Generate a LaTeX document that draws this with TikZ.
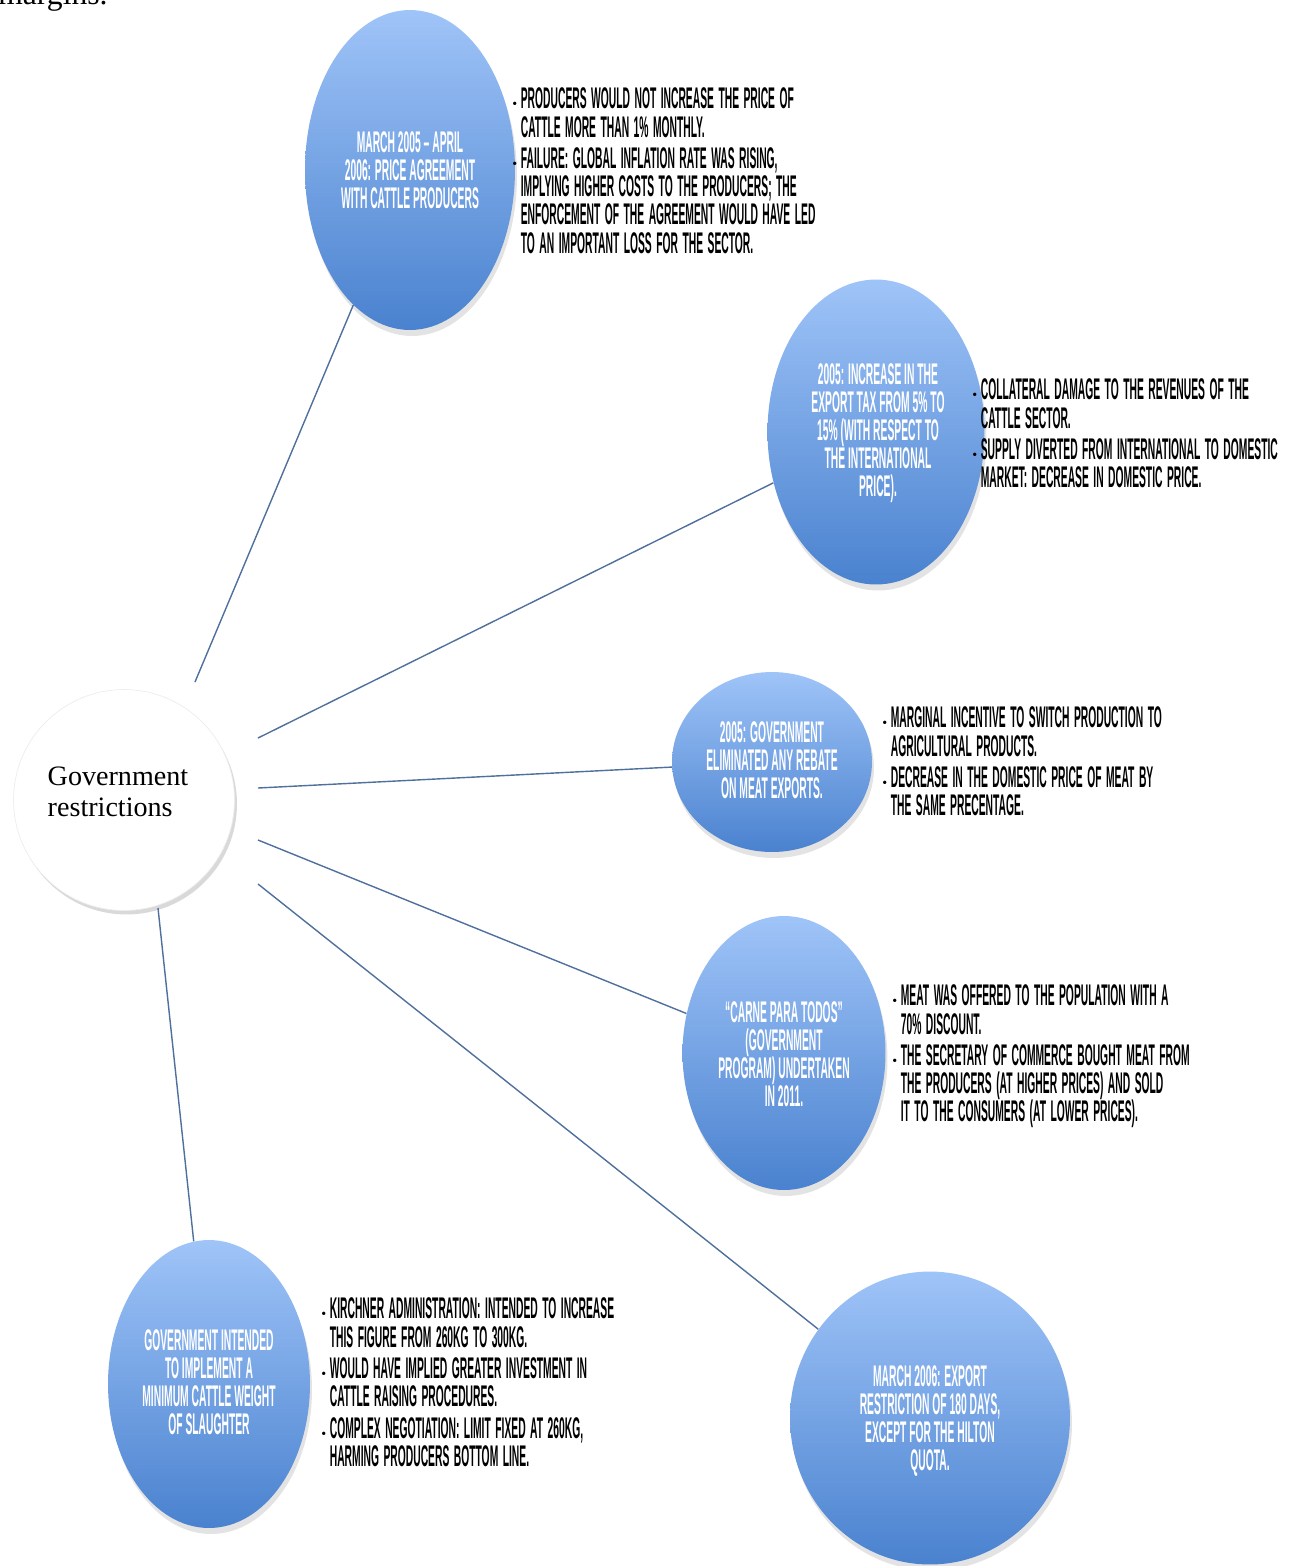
\documentclass[tikz,border=0pt]{standalone}
\usepackage{fontspec}
\setmainfont{Liberation Serif}
\newfontfamily\narrowfont[FakeStretch=0.345]{Liberation Sans Bold}
\usetikzlibrary{shapes.geometric,shadows}

\definecolor{balltop}{HTML}{9FC4F8}
\definecolor{ballbot}{HTML}{4A82CF}
\definecolor{linkblue}{HTML}{4F709C}

% one bullet point with hanging indent
\newcommand{\pnt}[1]{\par\spaceskip=0.15em plus 0.1em\relax
  \hangindent=0.17cm\hangafter=1\noindent
  \makebox[0.17cm][l]{\normalfont\footnotesize\textbullet}#1\par}

\tikzset{
  ball/.style={ellipse, draw=none, top color=balltop, bottom color=ballbot,
    drop shadow={opacity=0.22, shadow xshift=0.04cm, shadow yshift=-0.12cm}},
  balltext/.style={text=white, align=center, inner sep=0pt,
    font=\narrowfont\fontsize{17}{16}\selectfont},
  bullets/.style={anchor=north west, align=left, inner sep=0pt, text width=9cm,
    font=\narrowfont\fontsize{17}{16}\selectfont\setlength{\parskip}{2pt}},
  link/.style={draw=linkblue, line width=0.8pt}
}

\begin{document}
\begin{tikzpicture}[x=0.02cm,y=-0.02cm]
  \useasboundingbox (0,0) rectangle (1301,1566);

  % cut-off line of text above the diagram
  \node[anchor=base west, inner sep=0pt, font=\fontsize{18}{20}\selectfont] (marg) at (-2,4) {margins.};

  % centre
  \node[circle, fill=white, draw=black!7, minimum width=4.42cm, minimum height=4.2cm, inner sep=0pt,
    drop shadow={opacity=0.3, shadow xshift=0.05cm, shadow yshift=-0.08cm}] (gov) at (124,800) {};
  \node[align=left, inner sep=0pt, font=\fontsize{16}{18}\selectfont] (govtxt) at (118,792)
    {Government\\restrictions};

  % restrictions
  \node[ball, minimum width=4.2cm, minimum height=6.4cm] (e1) at (410,170) {};
  \node[ball, minimum width=4.34cm, minimum height=6.1cm] (e2) at (876,432) {};
  \node[ball, minimum width=4.0cm, minimum height=3.6cm] (e3) at (772,762) {};
  \node[ball, minimum width=4.06cm, minimum height=5.48cm] (e4) at (784,1053) {};
  \node[ball, minimum width=4.04cm, minimum height=5.76cm] (e5) at (209,1384) {};
  \node[ball, minimum width=5.6cm, minimum height=5.86cm] (e6) at (930,1418) {};

  \node[balltext] (t1) at (410,170) {MARCH 2005 – APRIL\\2006: PRICE AGREEMENT\\WITH CATTLE PRODUCERS};
  \node[balltext] (t2) at (878,433) {2005: INCREASE IN THE\\EXPORT TAX FROM 5\% TO\\15\% (WITH RESPECT TO\\THE INTERNATIONAL\\PRICE).};
  \node[balltext] (t3) at (772,760) {2005: GOVERNMENT\\ELIMINATED ANY REBATE\\ON MEAT EXPORTS.};
  \node[balltext] (t4) at (784,1054) {“CARNE PARA TODOS”\\(GOVERNMENT\\PROGRAM) UNDERTAKEN\\IN 2011.};
  \node[balltext] (t5) at (209,1382) {GOVERNMENT INTENDED\\TO IMPLEMENT A\\MINIMUM CATTLE WEIGHT\\OF SLAUGHTER};
  \node[balltext] (t6) at (930,1421) {MARCH 2006: EXPORT\\RESTRICTION OF 180 DAYS,\\EXCEPT FOR THE HILTON\\QUOTA.};

  % consequences
  \node[bullets] (b1) at (512,77) {%
    \pnt{PRODUCERS WOULD NOT INCREASE THE PRICE OF\newline CATTLE MORE THAN 1\% MONTHLY.}
    \pnt{FAILURE: GLOBAL INFLATION RATE WAS RISING,\newline IMPLYING HIGHER COSTS TO THE PRODUCERS; THE\newline
      ENFORCEMENT OF THE AGREEMENT WOULD HAVE LED\newline TO AN IMPORTANT LOSS FOR THE SECTOR.}};
  \node[bullets] (b2) at (972,368) {%
    \pnt{COLLATERAL DAMAGE TO THE REVENUES OF THE\newline CATTLE SECTOR.}
    \pnt{SUPPLY DIVERTED FROM INTERNATIONAL TO DOMESTIC\newline MARKET: DECREASE IN DOMESTIC PRICE.}};
  \node[bullets] (b3) at (882,696) {%
    \pnt{MARGINAL INCENTIVE TO SWITCH PRODUCTION TO\newline AGRICULTURAL PRODUCTS.}
    \pnt{DECREASE IN THE DOMESTIC PRICE OF MEAT BY\newline THE SAME PRECENTAGE.}};
  \node[bullets] (b4) at (892,974) {%
    \pnt{MEAT WAS OFFERED TO THE POPULATION WITH A\newline 70\% DISCOUNT.}
    \pnt{THE SECRETARY OF COMMERCE BOUGHT MEAT FROM\newline THE PRODUCERS (AT HIGHER PRICES) AND SOLD\newline
      IT TO THE CONSUMERS (AT LOWER PRICES).}};
  \node[bullets] (b5) at (321,1287) {%
    \pnt{KIRCHNER ADMINISTRATION: INTENDED TO INCREASE\newline THIS FIGURE FROM 260KG TO 300KG.}
    \pnt{WOULD HAVE IMPLIED GREATER INVESTMENT IN\newline CATTLE RAISING PROCEDURES.}
    \pnt{COMPLEX NEGOTIATION: LIMIT FIXED AT 260KG,\newline HARMING PRODUCERS BOTTOM LINE.}};

  % connectors
  \coordinate (g1) at (195,682);
  \coordinate (g2) at (258,738);
  \coordinate (g3) at (258,788);
  \coordinate (g4) at (258,840);
  \coordinate (g5) at (158,908);
  \coordinate (g6) at (258,884);
  \draw[link] (g1) -- (e1);
  \draw[link] (g2) -- (e2);
  \draw[link] (g3) -- (e3);
  \draw[link] (g4) -- (e4);
  \draw[link] (g5) -- (e5);
  \draw[link] (g6) -- (e6);
\end{tikzpicture}
\end{document}
